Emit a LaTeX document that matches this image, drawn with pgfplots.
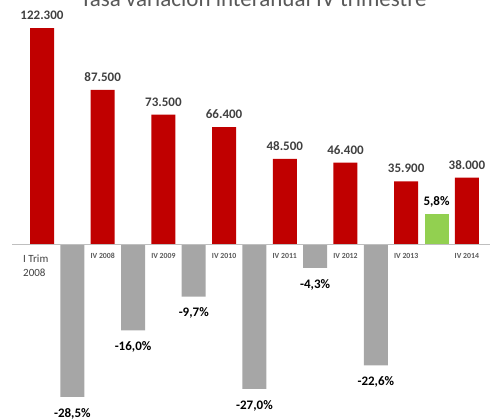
\documentclass[border=0pt]{standalone}
\usepackage{pgfplots}
\pgfplotsset{compat=1.18}
\usepackage{fontspec}
\setmainfont{Carlito}
\definecolor{barred}{HTML}{C00000}
\definecolor{bargray}{HTML}{A6A6A6}
\definecolor{bargreen}{HTML}{92D050}
\definecolor{txtdark}{HTML}{404040}
\definecolor{txtgray}{HTML}{595959}
\definecolor{linegray}{HTML}{BFBFBF}
\begin{document}
\begin{tikzpicture}
\path[use as bounding box, clip] (0,0) rectangle (490pt,419pt);
\pgfplotsset{base/.style={scale only axis, width=490pt, height=419pt,
  at={(0,0)}, anchor=south west, xmin=-0.692, xmax=7.381,
  axis line style={draw=none}, ytick=\empty, clip=false,
  ybar, bar width=24pt, bar shift=0pt,
  nodes near coords, point meta=explicit symbolic}}
% percentage axis
\begin{axis}[base, ymin=-32.65, ymax=45.97, xtick=\empty,
  every node near coord/.append style={font=\fontsize{13}{15}\selectfont\bfseries, text=black, inner sep=0pt}]
\addplot[fill=bargray, draw=none, every node near coord/.append style={anchor=north, yshift=-11pt}] coordinates {
  (0.5,-28.5) [-28,5\%]
  (1.5,-16.0) [-16,0\%]
  (2.5,-9.7) [-9,7\%]
  (3.5,-27.0) [-27,0\%]
  (4.5,-4.3) [-4,3\%]
  (5.5,-22.6) [-22,6\%]
};
\addplot[fill=bargreen, draw=none, every node near coord/.append style={anchor=south, yshift=6.5pt}] coordinates {
  (6.5,5.8) [5,8\%]
};
\end{axis}
% absolute axis
\begin{axis}[base, ymin=-98.1, ymax=138.1,
  axis x line=middle, axis y line=none, x axis line style={draw=none},
  major tick length=0pt,
  xtick={1,...,7},
  xticklabels={IV 2008,IV 2009,IV 2010,IV 2011,IV 2012,IV 2013,IV 2014},
  xticklabel style={font=\fontsize{7.8}{9}\selectfont\bfseries, text=txtgray, anchor=base, inner sep=0pt, yshift=-14pt},
  every node near coord/.append style={font=\fontsize{13}{15}\selectfont\bfseries, text=txtdark, inner sep=0pt, anchor=south, yshift=8pt}]
\addplot[fill=barred, draw=none] coordinates {
  (0,122.3) [122.300]
  (1,87.5) [87.500]
  (2,73.5) [73.500]
  (3,66.4) [66.400]
  (4,48.5) [48.500]
  (5,46.4) [46.400]
  (6,35.9) [35.900]
  (7,38.0) [38.000]
};
\draw[linegray, line width=1pt] (axis cs:-0.494,0) -- (axis cs:7.381,0);
\node[anchor=base, font=\fontsize{23}{26}\selectfont, text=txtgray, inner sep=0pt] at (axis cs:3.484,134.7) {Tasa variación interanual IV trimestre};
\node[anchor=north west, align=left, font=\fontsize{11}{14}\selectfont, text=txtdark, inner sep=0pt] at (axis cs:-0.313,-5.6) {I Trim\\2008};
\end{axis}
\end{tikzpicture}
\end{document}
